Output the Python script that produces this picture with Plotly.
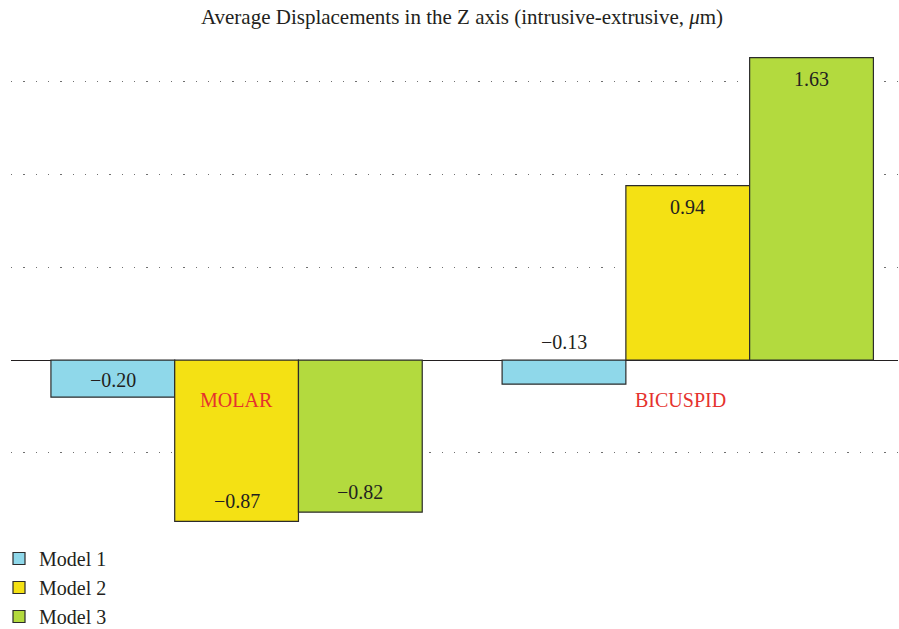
import plotly.graph_objects as go

categories = ["MOLAR", "BICUSPID"]
series_names = ["Model 1", "Model 2", "Model 3"]
model1 = [-0.20, -0.13]
model2 = [-0.87, 0.94]
model3 = [-0.82, 1.63]
series_values = [model1, model2, model3]
colors = ["#8fd8ea", "#f4e114", "#b3da3e"]

title_text = "Average Displacements in the Z axis (intrusive-extrusive, <i>μ</i>m)"
FONT = "Liberation Serif"
bargap = 0.177

fig = go.Figure()
for name, vals, col in zip(series_names, series_values, colors):
    fig.add_trace(go.Bar(
        name=name, x=categories, y=vals,
        marker=dict(color=col, line=dict(color="#2b2b2b", width=1.2)),
        hoverinfo="skip",
    ))

def fmt(v):
    s = f"{abs(v):.2f}"
    return ("\u2212" + s) if v < 0 else s

annotations = []
bw = (1 - bargap) / len(series_names)
for k, vals in enumerate(series_values):
    for i, v in enumerate(vals):
        xpos = i + (k - (len(series_names) - 1) / 2) * bw
        if v < 0 and abs(v) < 0.15:
            y, ys = 0, 18
        elif v < 0 and abs(v) < 0.3:
            y, ys = v, 17
        elif v < 0:
            y, ys = v, 20
        else:
            y, ys = v, -21
        annotations.append(dict(x=xpos, y=y, yshift=ys, xref="x", yref="y",
                                text=fmt(v), showarrow=False,
                                font=dict(family=FONT, size=20, color="#231f20"),
                                xanchor="center", yanchor="middle"))

for i, c in enumerate(categories):
    annotations.append(dict(x=i, y=0, yshift=-40, xshift=(-7 if i == 1 else 0),
                            xref="x", yref="y", text=c, showarrow=False,
                            font=dict(family=FONT, size=20, color="#e5322d"),
                            xanchor="center", yanchor="middle"))

fig.update_layout(
    width=899, height=629,
    margin=dict(l=11, r=1, t=40, b=94, autoexpand=False),
    paper_bgcolor="white", plot_bgcolor="white",
    barmode="group", bargap=bargap, bargroupgap=0,
    title=dict(text=title_text, x=462 / 899, xanchor="center", y=1 - 17 / 629,
               yanchor="middle", font=dict(family=FONT, size=21, color="#231f20")),
    xaxis=dict(range=[-0.5, 1.466], showticklabels=False, showgrid=False,
               zeroline=False, showline=False, ticks=""),
    yaxis=dict(range=[-0.943, 1.725], dtick=0.5, tick0=0, showticklabels=False,
               showgrid=True, gridcolor="#6f6f6f", gridwidth=1.3, griddash="1.3px,11px",
               zeroline=True, zerolinecolor="#231f20", zerolinewidth=1,
               showline=False, ticks=""),
    legend=dict(x=-12 / 887, xanchor="left", yref="container", y=1 - 539 / 629,
                yanchor="top", orientation="v",
                font=dict(family=FONT, size=20, color="#231f20"),
                tracegroupgap=0, bgcolor="rgba(0,0,0,0)"),
    annotations=annotations,
    font=dict(family=FONT),
)

fig.write_html("out.html", config={"displayModeBar": False},
               post_script="document.body.style.margin='0';document.body.style.overflow='hidden';")
